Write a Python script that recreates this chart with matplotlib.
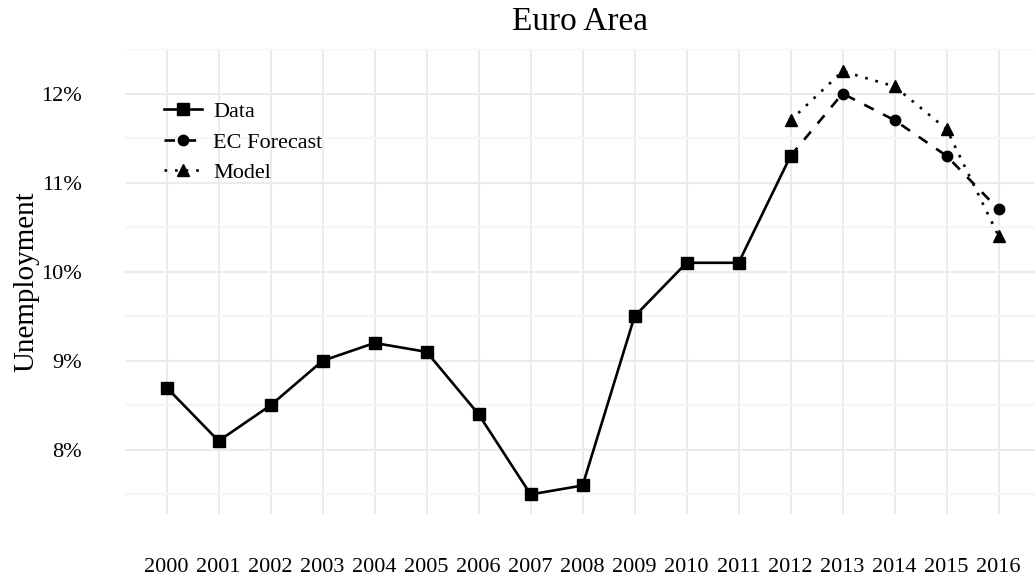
import matplotlib
matplotlib.use('Agg')
import matplotlib.pyplot as plt
import numpy as np

plt.rcParams['font.family'] = ['Liberation Serif', 'DejaVu Serif']
plt.rcParams['font.size'] = 16

# Data
years = np.arange(2000, 2017)
data_years = np.arange(2000, 2013)
data_vals = [8.7, 8.1, 8.5, 9.0, 9.2, 9.1, 8.4, 7.5, 7.6, 9.5, 10.1, 10.1, 11.3]
fc_years = np.arange(2012, 2017)
ec_vals = [11.3, 12.0, 11.7, 11.3, 10.7]
model_vals = [11.7, 12.25, 12.08, 11.6, 10.4]
yticks = [8, 9, 10, 11, 12]
yminor = [7.5, 8.5, 9.5, 10.5, 11.5, 12.5]

fig = plt.figure(figsize=(10.35, 5.81), dpi=100)
ax = fig.add_axes([125/1035, 67/581, 910/1035, 465/581])

ax.plot(data_years, data_vals, color='black', lw=1.9, marker='s', ms=8, label='Data')
ax.plot(fc_years, ec_vals, color='black', lw=1.9, ls=(0, (4, 4)), marker='o', ms=7.5, label='EC Forecast')
ax.plot(fc_years, model_vals, color='black', lw=1.9, ls=(0, (1, 3)), marker='^', ms=9, label='Model')

ax.set_xlim(1999.2, 2016.7)
ax.set_ylim(7.28, 12.46)
ax.set_xticks(years)
ax.set_xticklabels([str(y) for y in years])
ax.set_yticks(yticks)
ax.set_yticklabels([f'{v}%' for v in yticks])
ax.set_yticks(yminor, minor=True)

ax.grid(which='major', color='#EBEBEB', lw=1.5)
ax.grid(which='minor', axis='y', color='#F5F5F5', lw=1.5)
ax.set_axisbelow(True)
for s in ax.spines.values():
    s.set_visible(False)
ax.tick_params(axis='both', which='both', length=0)
ax.tick_params(axis='x', pad=32)
ax.tick_params(axis='y', pad=31)

ax.set_ylabel('Unemployment', fontsize=21, labelpad=1.5)
ax.set_title('Euro Area', fontsize=24, pad=14)

leg = ax.legend(loc='upper left', bbox_to_anchor=(0.021, 0.93), frameon=False,
                handlelength=1.7, handletextpad=0.5, labelspacing=0.45, fontsize=16)

fig.savefig('out.png', dpi=100)
